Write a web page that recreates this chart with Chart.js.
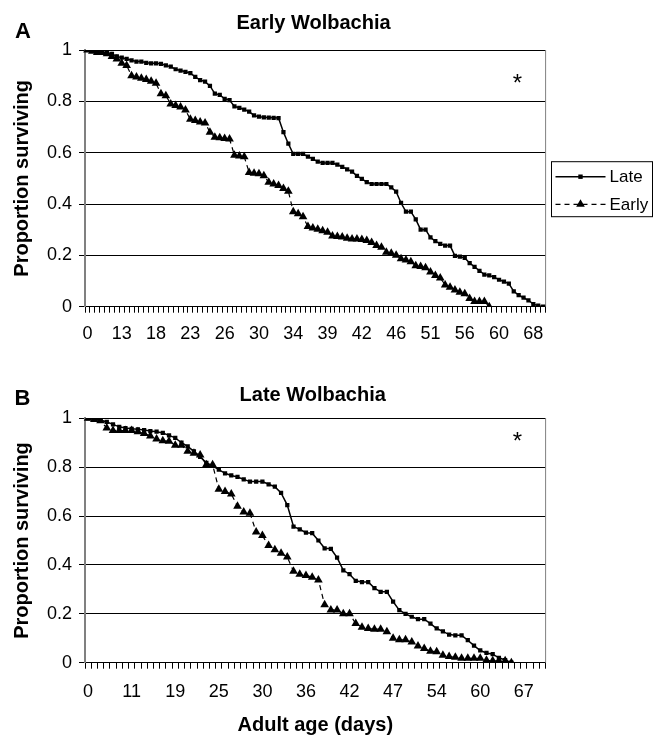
<!DOCTYPE html>
<html>
<head>
<meta charset="utf-8">
<script src="https://cdn.jsdelivr.net/npm/chart.js@4.4.1/dist/chart.umd.min.js"></script>
<style>
  html, body { margin: 0; padding: 0; background: #fff; }
  #wrap { position: relative; width: 660px; height: 739px; overflow: hidden; }
  canvas { position: absolute; left: 0; }
  #cA { top: 0; }
  #cB { top: 360px; }
</style>
</head>
<body>
<div id="wrap">
  <canvas id="cA" width="660" height="360"></canvas>
  <canvas id="cB" width="660" height="379"></canvas>
</div>
<script>
// ---------- Panel A: Early Wolbachia ----------
const daysA = [0,2,4,6,8,10,12, 13,14,15,15,16,17,17, 18,19,19,20,21,22,22,
  23,23,24,24,25,25,26, 26,27,27,28,28,29,29, 30,30,31,31,32,32,33,
  34,34,35,36,37,37,38, 39,39,40,40,41,41,42, 42,43,43,44,44,45,45,
  46,47,47,48,49,49,50, 51,52,52,53,54,54,55, 56,56,57,57,58,59,59,
  60,61,62,63,65,66,67, 68,69,70];

const lateA = [1.0,1.0,0.995,0.99,0.99,0.985,0.975,0.97,0.965,0.96,
  0.955,0.955,0.95,0.948,0.948,0.946,0.94,0.935,0.925,0.92,
  0.915,0.91,0.895,0.883,0.877,0.86,0.83,0.825,0.81,0.805,
  0.78,0.775,0.768,0.76,0.745,0.74,0.738,0.737,0.736,0.735,
  0.68,0.635,0.595,0.595,0.595,0.585,0.576,0.565,0.56,0.56,
  0.56,0.553,0.545,0.535,0.526,0.51,0.498,0.485,0.478,0.478,
  0.478,0.478,0.465,0.448,0.404,0.37,0.37,0.34,0.30,0.30,
  0.27,0.255,0.245,0.238,0.238,0.198,0.195,0.19,0.17,0.155,
  0.14,0.125,0.122,0.115,0.105,0.098,0.09,0.06,0.045,0.035,
  0.025,0.01,0.004,0.0];

const earlyA = [1.0,0.995,0.99,0.99,0.985,0.975,0.965,0.948,0.94,0.9,
  0.895,0.89,0.885,0.878,0.87,0.83,0.822,0.79,0.784,0.778,
  0.766,0.73,0.725,0.72,0.716,0.68,0.66,0.658,0.655,0.653,
  0.59,0.587,0.584,0.523,0.52,0.518,0.51,0.485,0.478,0.472,
  0.46,0.45,0.37,0.362,0.35,0.312,0.307,0.302,0.296,0.29,
  0.275,0.273,0.272,0.267,0.264,0.264,0.262,0.258,0.25,0.238,
  0.232,0.212,0.208,0.2,0.187,0.182,0.175,0.16,0.157,0.152,
  0.135,0.122,0.112,0.085,0.076,0.065,0.056,0.05,0.032,0.02,
  0.02,0.02,0.0];

// ---------- Panel B: Late Wolbachia ----------
const daysB = [0,2,4,5,7,9,10, 11,12,13,14,15,17,18, 19,20,21,22,23,23,24,
  25,26,26,27,28,28,29, 30,31,32,33,33,34,35, 36,37,38,39,40,40,41,
  42,43,43,44,45,45,46, 47,48,49,50,51,52,53, 54,55,56,57,58,58,59,
  60,61,62,63,64,65,66, 67,68,69,70];

const lateB = [1.0,0.997,0.993,0.985,0.975,0.965,0.96,0.957,0.955,0.952,
  0.948,0.945,0.94,0.93,0.92,0.9,0.885,0.865,0.842,0.818,
  0.805,0.79,0.775,0.766,0.76,0.75,0.741,0.741,0.741,0.73,
  0.72,0.695,0.645,0.557,0.546,0.532,0.53,0.5,0.468,0.466,
  0.43,0.378,0.362,0.335,0.33,0.33,0.305,0.29,0.29,0.25,
  0.215,0.2,0.188,0.178,0.178,0.16,0.14,0.128,0.115,0.112,
  0.112,0.092,0.07,0.05,0.04,0.035,0.02,0.011,0.0];

const earlyB = [1.0,0.995,0.99,0.96,0.95,0.95,0.95,0.95,0.945,0.938,
  0.928,0.915,0.908,0.906,0.89,0.89,0.865,0.857,0.85,0.81,
  0.81,0.71,0.70,0.69,0.64,0.617,0.612,0.535,0.52,0.48,
  0.462,0.448,0.432,0.374,0.362,0.357,0.35,0.338,0.237,0.216,
  0.216,0.2,0.2,0.16,0.145,0.14,0.137,0.137,0.127,0.1,
  0.094,0.094,0.085,0.068,0.058,0.047,0.045,0.03,0.025,0.022,
  0.018,0.018,0.018,0.018,0.01,0.008,0.008,0.008,0.0];

const yTicks = [0, 0.2, 0.4, 0.6, 0.8, 1];
const labelEvery = 7;
const seriesNames = ['Late', 'Early'];

const FONT = '"Liberation Sans", Arial, Helvetica, sans-serif';
Chart.defaults.font.family = FONT;
Chart.defaults.color = '#000';

const annot = {
  id: 'annot',
  beforeDatasetsDraw(chart) {
    const a = chart.chartArea, ctx = chart.ctx;
    ctx.save();
    ctx.strokeStyle = '#808080';
    ctx.lineWidth = 1;
    ctx.beginPath();
    ctx.moveTo(a.right, a.top);
    ctx.lineTo(a.right, a.bottom);
    ctx.stroke();
    ctx.restore();
  },
  afterDraw(chart, args, o) {
    const ctx = chart.ctx;
    ctx.save();
    ctx.fillStyle = '#000';
    ctx.textBaseline = 'alphabetic';
    ctx.font = 'bold 22px ' + FONT;
    ctx.textAlign = 'left';
    ctx.fillText(o.letter, o.letterX, o.letterY);
    ctx.font = 'bold 20px ' + FONT;
    ctx.textAlign = 'center';
    ctx.fillText(o.title, o.titleX, o.titleY);
    ctx.font = '24px ' + FONT;
    ctx.fillText('*', o.starX, o.starY);
    if (o.legend) {
      const L = o.legend;
      ctx.strokeStyle = '#000';
      ctx.lineWidth = 1;
      ctx.strokeRect(L.x, L.y, L.w, L.h);
      const rows = [L.y + 15, L.y + 42.6];
      ctx.font = '17px ' + FONT;
      ctx.textAlign = 'left';
      ctx.textBaseline = 'middle';
      rows.forEach((ry, k) => {
        ctx.beginPath();
        ctx.setLineDash(k === 0 ? [] : [5, 4]);
        ctx.lineWidth = k === 0 ? 1.5 : 1.2;
        ctx.moveTo(L.x + 4, ry);
        ctx.lineTo(L.x + 54, ry);
        ctx.stroke();
        ctx.setLineDash([]);
        const cx = L.x + 29;
        if (k === 0) {
          ctx.fillRect(cx - 2.2, ry - 2.2, 4.4, 4.4);
        } else {
          const r = 5;
          ctx.beginPath();
          ctx.moveTo(cx, ry - r);
          ctx.lineTo(cx + r * 0.866, ry + r * 0.5);
          ctx.lineTo(cx - r * 0.866, ry + r * 0.5);
          ctx.closePath();
          ctx.fill();
        }
        ctx.fillText(seriesNames[k], L.x + 58, ry + 1);
      });
    }
    ctx.restore();
  }
};

function makePanel(id, days, late, early, cfg) {
  return new Chart(document.getElementById(id), {
    type: 'line',
    data: {
      labels: days,
      datasets: [
        { label: seriesNames[0], data: late, borderColor: '#000', backgroundColor: '#000',
          borderWidth: 1.5, pointStyle: 'rect', pointRadius: 3, pointBorderWidth: 0,
          pointBackgroundColor: '#000', tension: 0, fill: false },
        { label: seriesNames[1], data: early, borderColor: '#000', backgroundColor: '#000',
          borderWidth: 1.2, borderDash: [5, 4], pointStyle: 'triangle', pointRadius: 5,
          pointBorderWidth: 0, pointBackgroundColor: '#000', tension: 0, fill: false }
      ]
    },
    options: {
      responsive: false,
      animation: false,
      events: [],
      layout: { padding: { left: 0, right: 114.4, top: cfg.top, bottom: 0 } },
      plugins: {
        legend: { display: false },
        tooltip: { enabled: false },
        annot: cfg.annot
      },
      scales: {
        x: {
          type: 'category',
          offset: true,
          grid: { offset: true, drawOnChartArea: false, drawTicks: true, tickLength: 6, color: '#000', lineWidth: 1 },
          border: { display: true, color: '#000', width: 1 },
          ticks: {
            autoSkip: false, maxRotation: 0, minRotation: 0, padding: cfg.xPad,
            font: { size: 18 }, color: '#000',
            callback: (v, i) => (i % labelEvery === 0 ? String(days[i]) : '')
          },
          title: cfg.xTitle ? { display: true, text: cfg.xTitle, font: { size: 20, weight: 'bold' }, padding: { top: 0, bottom: 2 }, color: '#000' } : { display: false },
          afterFit: s => { s.height = cfg.xH; }
        },
        y: {
          min: 0, max: 1,
          afterBuildTicks: s => { s.ticks = yTicks.map(v => ({ value: v })); },
          grid: { color: '#000', lineWidth: 1, drawTicks: true, tickLength: 6 },
          border: { display: true, color: '#808080', width: 2 },
          ticks: { padding: 7, font: { size: 18 }, color: '#000', callback: v => String(Math.round(v * 10) / 10) },
          title: { display: true, text: 'Proportion surviving', font: { size: 20, weight: 'bold' }, padding: { top: 10, bottom: 0 }, color: '#000' },
          afterFit: s => { s.width = 85; }
        }
      }
    },
    plugins: [annot]
  });
}

makePanel('cA', daysA, lateA, earlyA, {
  top: 50, xH: 360 - 306.7, xPad: 11,
  annot: { letter: 'A', letterX: 15, letterY: 38.3, title: 'Early Wolbachia', titleX: 313.5, titleY: 29.3,
    starX: 517.5, starY: 91, legend: { x: 551.5, y: 161.7, w: 101, h: 55 } }
});

makePanel('cB', daysB, lateB, earlyB, {
  top: 58.3, xH: 379 - 302.7, xPad: 13, xTitle: 'Adult age (days)',
  annot: { letter: 'B', letterX: 14.5, letterY: 45, title: 'Late Wolbachia', titleX: 312.7, titleY: 40.7,
    starX: 517.5, starY: 449 - 360 }
});
</script>
</body>
</html>
